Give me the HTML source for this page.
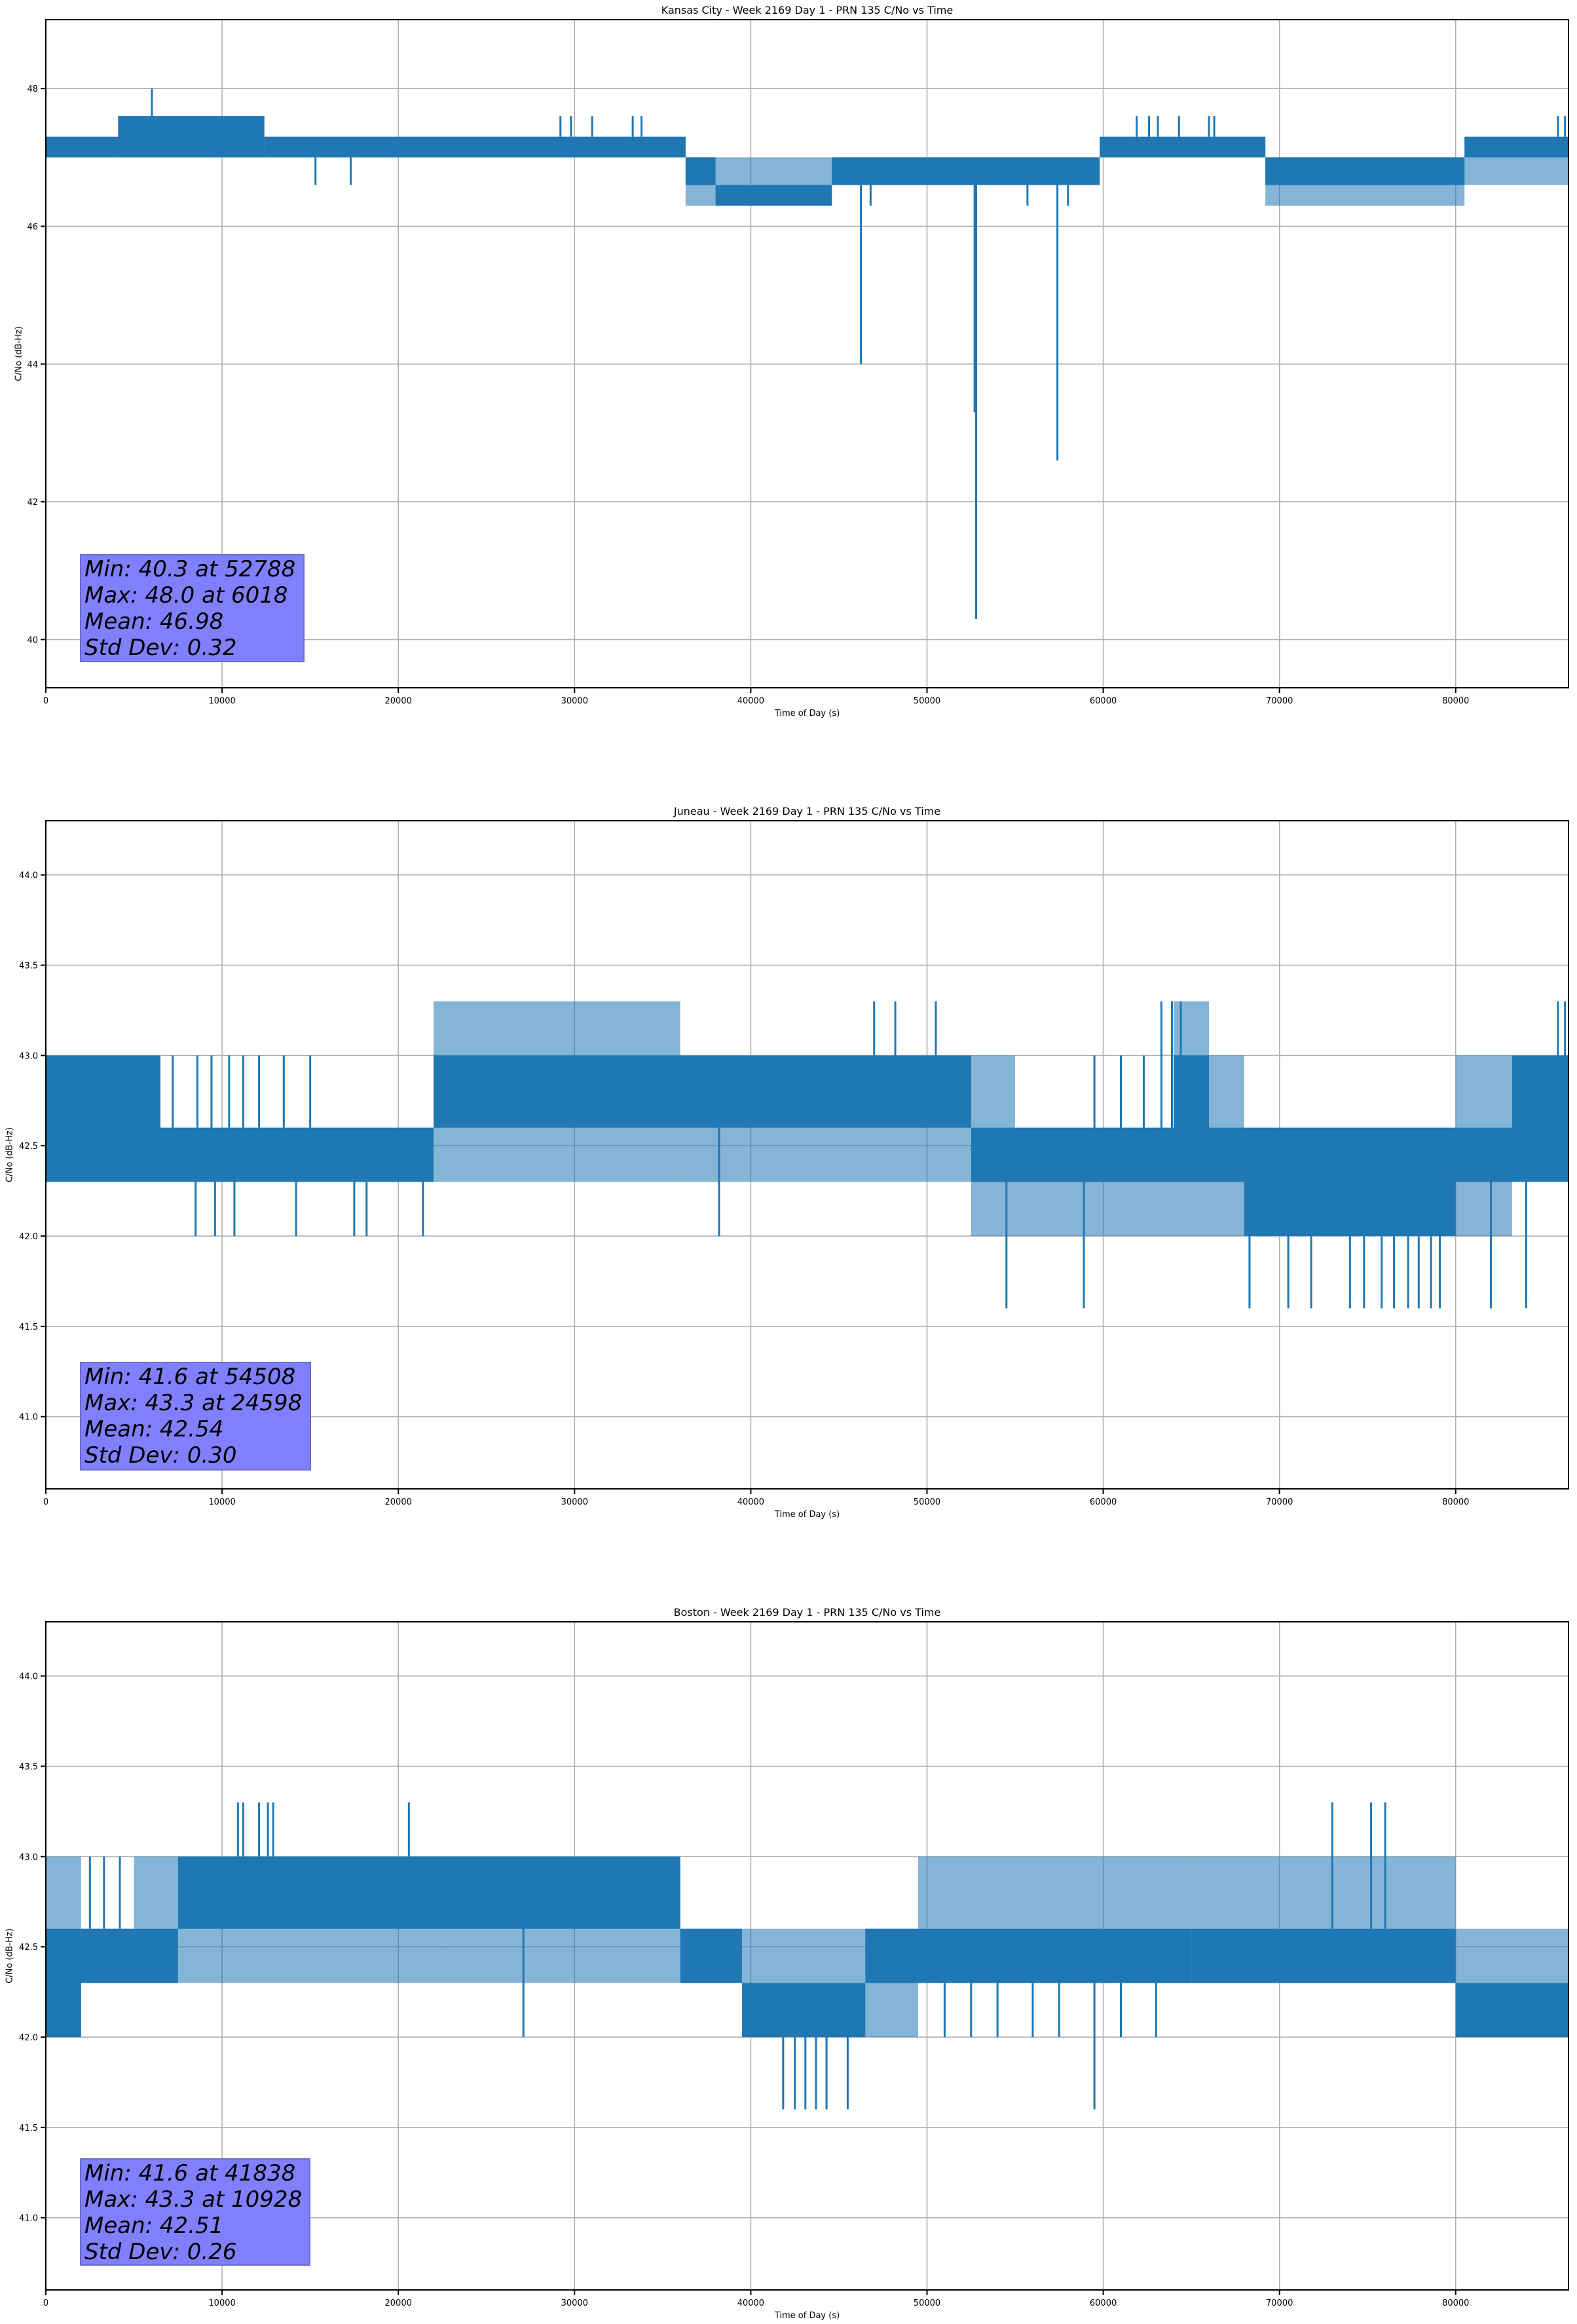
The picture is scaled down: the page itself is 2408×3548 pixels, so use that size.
<!DOCTYPE html>
<html><head><meta charset="utf-8"><style>
html,body{margin:0;padding:0;background:#fff}
svg{display:block}
text{font-family:"DejaVu Sans","Liberation Sans",sans-serif;fill:#000}
</style></head><body>
<svg id="fig" width="2408" height="3548" viewBox="0 0 2408 3548" xmlns="http://www.w3.org/2000/svg"></svg>
<script>
// ---------- Kansas City data ----------
const kcStart=[0,4100,12400,36300,38000,44600,59800,69200,80500];
const kcEnd=[4100,12400,36300,38000,44600,59800,69200,80500,86400];
const kcLo=[47.0,47.0,47.0,46.6,46.3,46.6,47.0,46.6,47.0];
const kcHi=[47.3,47.6,47.3,47.0,46.6,47.0,47.3,47.0,47.3];
const kcSpLo=[47.0,47.0,47.0,46.3,46.3,46.6,47.0,46.3,46.6];
const kcSpHi=[47.3,47.6,47.3,47.0,47.0,47.0,47.3,47.0,47.3];
const kcSpikeT=[6018,15300,17300,29200,29800,31000,33300,33800,46250,46800,52700,52788,55700,57400,58000,61900,62600,63100,64300,66000,66300,85800,86200];
const kcSpikeV=[48.0,46.6,46.6,47.6,47.6,47.6,47.6,47.6,44.0,46.3,43.3,40.3,46.3,42.6,46.3,47.6,47.6,47.6,47.6,47.6,47.6,47.6,47.6];
// ---------- Juneau data ----------
const juStart=[0,6500,22000,36000,40000,52500,55000,64000,66000,68000,80000,83200];
const juEnd=[6500,22000,36000,40000,52500,55000,64000,66000,68000,80000,83200,86400];
const juLo=[42.3,42.3,42.6,42.6,42.6,42.3,42.3,42.3,42.3,42.0,42.3,42.3];
const juHi=[43.0,42.6,43.0,43.0,43.0,42.6,42.6,43.0,42.6,42.6,42.6,43.0];
const juSpLo=[42.3,42.3,42.3,42.3,42.3,42.0,42.0,42.0,42.0,42.0,42.0,42.3];
const juSpHi=[43.0,42.6,43.3,43.0,43.0,43.0,42.6,43.3,43.0,42.6,43.0,43.0];
const juSpikeT=[7200,8600,9400,10400,11200,12100,13500,15000,17500,18200,21400,38200,47000,48200,50500,54508,58900,59500,61000,62300,63300,63900,64400,68300,70500,71800,74000,74800,75800,76500,77300,77900,78600,79100,82000,84000,85800,86200,8500,9600,10700,14200];
const juSpikeV=[43.0,43.0,43.0,43.0,43.0,43.0,43.0,43.0,42.0,42.0,42.0,42.0,43.3,43.3,43.3,41.6,41.6,43.0,43.0,43.0,43.3,43.3,43.3,41.6,41.6,41.6,41.6,41.6,41.6,41.6,41.6,41.6,41.6,41.6,41.6,41.6,43.3,43.3,42.0,42.0,42.0,42.0];
// ---------- Boston data ----------
const boStart=[0,2000,5000,7500,22500,36000,39500,46500,49500,65000,80000];
const boEnd=[2000,5000,7500,22500,36000,39500,46500,49500,65000,80000,86400];
const boLo=[42.0,42.3,42.3,42.6,42.6,42.3,42.0,42.3,42.3,42.3,42.0];
const boHi=[42.6,42.6,42.6,43.0,43.0,42.6,42.3,42.6,42.6,42.6,42.3];
const boSpLo=[42.0,42.3,42.3,42.3,42.3,42.3,42.0,42.0,42.3,42.3,42.0];
const boSpHi=[43.0,42.6,43.0,43.0,43.0,42.6,42.6,42.6,43.0,43.0,42.6];
const boSpikeT=[2500,3300,4200,10900,11200,12100,12600,12900,20600,27100,41838,42500,43100,43700,44300,45500,51000,52500,54000,56000,57500,59500,61000,63000,73000,75200,76000];
const boSpikeV=[43.0,43.0,43.0,43.3,43.3,43.3,43.3,43.3,43.3,42.0,41.6,41.6,41.6,41.6,41.6,41.6,42.0,42.0,42.0,42.0,42.0,41.6,42.0,42.0,43.3,43.3,43.3];
// ---------- ticks ----------
const xTicks=[0,10000,20000,30000,40000,50000,60000,70000,80000];
const kcYTicks=[40,42,44,46,48];
const juYTicks=[41.0,41.5,42.0,42.5,43.0,43.5,44.0];
const boYTicks=[41.0,41.5,42.0,42.5,43.0,43.5,44.0];
const kcStats=["Min: 40.3 at 52788","Max: 48.0 at 6018","Mean: 46.98","Std Dev: 0.32"];
const juStats=["Min: 41.6 at 54508","Max: 43.3 at 24598","Mean: 42.54","Std Dev: 0.30"];
const boStats=["Min: 41.6 at 41838","Max: 43.3 at 10928","Mean: 42.51","Std Dev: 0.26"];

const NS="http://www.w3.org/2000/svg";
const svg=document.getElementById('fig');
function mk(tag,attrs,parent){const e=document.createElementNS(NS,tag);for(const k in attrs)e.setAttribute(k,attrs[k]);(parent||svg).appendChild(e);return e;}
const L=70,R=2395,H=1020,XMAX=86400,C='#1f77b4';

const panels=[
 {key:'kansas-city',title:'Kansas City - Week 2169 Day 1 - PRN 135 C/No vs Time',top:30,ylo:39.3,yhi:49.0,yt:kcYTicks,dec:0,
  s:kcStart,e:kcEnd,lo:kcLo,hi:kcHi,slo:kcSpLo,shi:kcSpHi,st:kcSpikeT,sv:kcSpikeV,stats:kcStats,box:[123,847,341,163],ylx:29},
 {key:'juneau',title:'Juneau - Week 2169 Day 1 - PRN 135 C/No vs Time',top:1253,ylo:40.6,yhi:44.3,yt:juYTicks,dec:1,
  s:juStart,e:juEnd,lo:juLo,hi:juHi,slo:juSpLo,shi:juSpHi,st:juSpikeT,sv:juSpikeV,stats:juStats,box:[123,2080,351,164],ylx:15},
 {key:'boston',title:'Boston - Week 2169 Day 1 - PRN 135 C/No vs Time',top:2476,ylo:40.6,yhi:44.3,yt:boYTicks,dec:1,
  s:boStart,e:boEnd,lo:boLo,hi:boHi,slo:boSpLo,shi:boSpHi,st:boSpikeT,sv:boSpikeV,stats:boStats,box:[123,3296,350,162],ylx:15}
];

panels.forEach(p=>{
  const g=mk('g',{});
  
  
  const top=p.top,bot=top+H;
  const xs=v=>L+(v/XMAX)*(R-L);
  const ys=v=>bot-(v-p.ylo)/(p.yhi-p.ylo)*H;
  xTicks.forEach(t=>{const l=mk('line',{x1:xs(t),x2:xs(t),y1:top,y2:bot,stroke:'#b0b0b0','stroke-width':1.6},g);
    });
  p.yt.forEach(t=>{const l=mk('line',{x1:L,x2:R,y1:ys(t),y2:ys(t),stroke:'#b0b0b0','stroke-width':1.6},g);
    });
  for(let i=0;i<p.s.length;i++){
    const r=mk('rect',{x:xs(p.s[i]),y:ys(p.shi[i]),width:Math.max(1,xs(p.e[i])-xs(p.s[i])),height:ys(p.slo[i])-ys(p.shi[i]),fill:C,'fill-opacity':0.55},g);
    
  }
  for(let i=0;i<p.s.length;i++){
    const r=mk('rect',{x:xs(p.s[i]),y:ys(p.hi[i]),width:Math.max(1,xs(p.e[i])-xs(p.s[i])),height:ys(p.lo[i])-ys(p.hi[i]),fill:C},g);
    
  }
  for(let j=0;j<p.st.length;j++){
    const t=p.st[j],v=p.sv[j];let k=0;
    for(let i=0;i<p.s.length;i++){if(t>=p.s[i]&&t<=p.e[i]){k=i;break;}}
    const from=v<p.lo[k]?p.lo[k]:p.hi[k];
    const l=mk('line',{x1:xs(t),x2:xs(t),y1:ys(from),y2:ys(v),stroke:C,'stroke-width':3},g);
    
  }
  const f=mk('rect',{x:L,y:top,width:R-L,height:H,fill:'none',stroke:'#000','stroke-width':2},g);
  
  xTicks.forEach(t=>{
    mk('line',{x1:xs(t),x2:xs(t),y1:bot,y2:bot+8,stroke:'#000','stroke-width':2},g);
    const tx=mk('text',{x:xs(t),y:bot+24,'font-size':13,'text-anchor':'middle'},g);tx.textContent=String(t);
    
  });
  p.yt.forEach(t=>{
    mk('line',{x1:L-8,x2:L,y1:ys(t),y2:ys(t),stroke:'#000','stroke-width':2},g);
    const tx=mk('text',{x:L-12,y:ys(t)+5,'font-size':13,'text-anchor':'end'},g);tx.textContent=t.toFixed(p.dec);
    
  });
  const xl=mk('text',{x:(L+R)/2,y:bot+43,'font-size':13,'text-anchor':'middle'},g);xl.textContent='Time of Day (s)';
  
  const yl=mk('text',{x:p.ylx,y:top+H/2,'font-size':13,'text-anchor':'middle',transform:`rotate(-90 ${p.ylx} ${top+H/2})`,'dominant-baseline':'middle'},g);yl.textContent='C/No (dB-Hz)';
  
  const ti=mk('text',{x:(L+R)/2,y:top-9,'font-size':16,'text-anchor':'middle'},g);ti.textContent=p.title;
  
  const [bx,by,bw,bh]=p.box;
  const br=mk('rect',{x:bx,y:by,width:bw,height:bh,fill:'#8080ff',stroke:'#6c6cc8','stroke-width':2},g);
  
  p.stats.forEach((s,i)=>{
    const tx=mk('text',{x:bx+6,y:by+33+i*40,'font-size':34,'font-style':'italic'},g);tx.textContent=s;
    
  });
});
</script>
</body></html>
